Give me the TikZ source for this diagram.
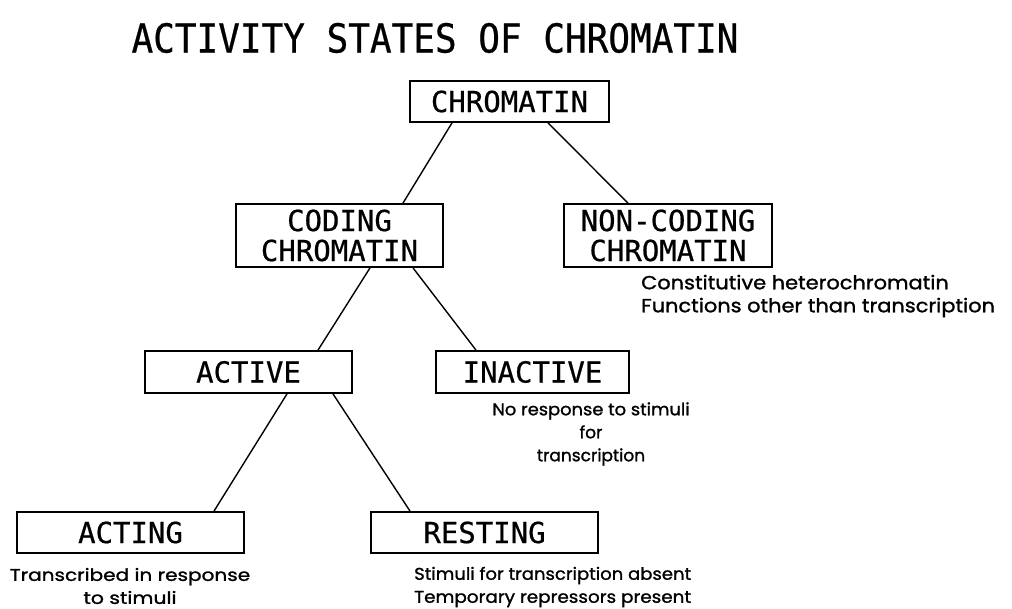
\documentclass[tikz,border=0pt]{standalone}
\usepackage{fontspec}
\usepackage{graphicx}
\newfontfamily\boxfont[FakeBold=0.6]{DejaVu Sans Mono}
\newfontfamily\titlefont[FakeStretch=0.9,FakeBold=0.6]{DejaVu Sans Mono}
\newfontfamily\notefont[FakeBold=1.2]{Poppins}
\newcommand{\hs}[2]{\scalebox{#1}[1]{#2}}
\begin{document}
\begin{tikzpicture}[x=1pt,y=-1pt,
  statebox/.style={draw=black,line width=1.8pt,rectangle,inner sep=0pt,align=center,
    font=\boxfont\fontsize{29}{30}\selectfont},
  note/.style={inner sep=0pt,font=\notefont\fontsize{17}{23}\selectfont},
  link/.style={draw=black,line width=1.4pt}]
\fill[white] (0,0) rectangle (1012,609);
\useasboundingbox (0,0) rectangle (1012,609);
\node[inner sep=0pt,font=\titlefont\fontsize{40}{40}\selectfont] (title) at (435,38) {ACTIVITY STATES OF CHROMATIN};
\node[statebox,minimum width=199pt,minimum height=41pt] (chrom) at (509.5,101.5) {CHROMATIN};
\node[statebox,minimum width=207pt,minimum height=63pt] (coding) at (339.5,235.5) {CODING\\CHROMATIN};
\node[statebox,minimum width=208pt,minimum height=63pt] (noncoding) at (668,235.5) {NON-CODING\\CHROMATIN};
\node[statebox,minimum width=207pt,minimum height=42pt] (active) at (248.5,372) {ACTIVE};
\node[statebox,minimum width=193pt,minimum height=42pt] (inactive) at (532.5,372) {INACTIVE};
\node[statebox,minimum width=227pt,minimum height=41pt] (acting) at (130.5,532.5) {ACTING};
\node[statebox,minimum width=227pt,minimum height=41pt] (resting) at (484.5,532.5) {RESTING};
\node[note,align=left,anchor=west,font=\notefont\fontsize{19}{23}\selectfont] (ncnote) at (641,296) {\hs{1.1}{Constitutive heterochromatin}\\\hs{1.1}{Functions other than transcription}};
\node[note,align=center] (inote) at (591,434) {\hs{1.05}{No response to stimuli}\\for\\transcription};
\node[note,align=center] (actnote) at (130,586) {\hs{1.18}{Transcribed in response}\\\hs{1.2}{to stimuli}};
\node[note,align=left,anchor=west] (resnote) at (414,587) {\hs{1.06}{Stimuli for transcription absent}\\\hs{1.08}{Temporary repressors present}};
\draw[link] ([xshift=-57.5pt]chrom.south) -- ([xshift=63.5pt]coding.north);
\draw[link] ([xshift=38.5pt]chrom.south) -- ([xshift=-40pt]noncoding.north);
\draw[link] ([xshift=30.5pt]coding.south) -- ([xshift=69.5pt]active.north);
\draw[link] ([xshift=73.5pt]coding.south) -- ([xshift=-56.5pt]inactive.north);
\draw[link] ([xshift=38.5pt]active.south) -- ([xshift=83.5pt]acting.north);
\draw[link] ([xshift=84.5pt]active.south) -- ([xshift=-74.5pt]resting.north);
\end{tikzpicture}
\end{document}
